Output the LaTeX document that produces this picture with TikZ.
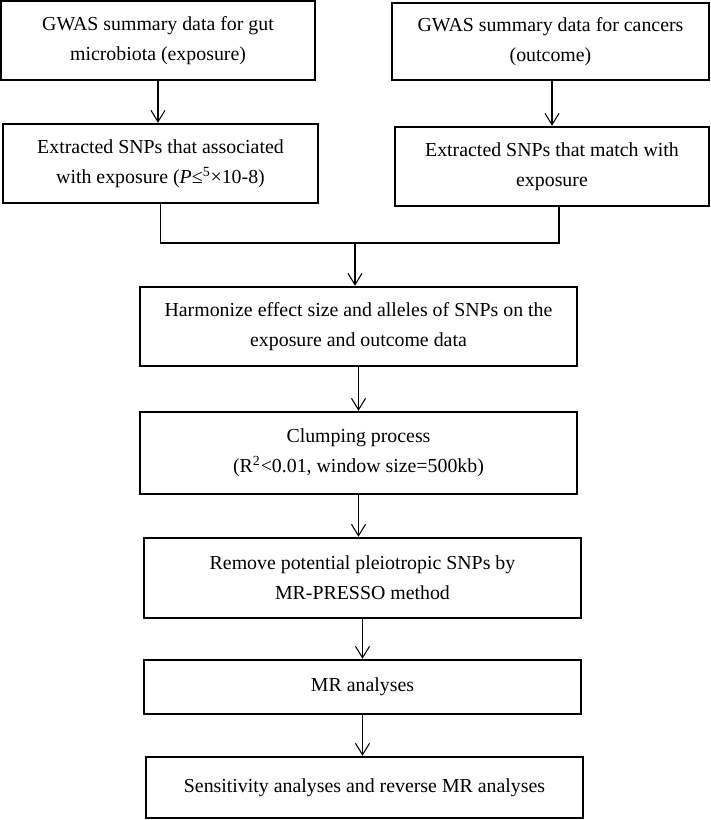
\documentclass[tikz,border=0pt]{standalone}
\usepackage{fontspec}
\setmainfont{Liberation Serif}
\usepackage{tikz}
\usetikzlibrary{arrows, arrows.meta}
\usetikzlibrary{positioning}

\begin{document}
\begin{tikzpicture}[
  box/.style={draw, line width=1.4pt, align=center, inner sep=0pt,
    font=\fontsize{11.3pt}{17pt}\selectfont},
  arr/.style={line width=0.6pt, -{Straight Barb[length=6.5pt, width=8pt]}}
]
\useasboundingbox (0,0) rectangle (14.2,16.4);

\node[box, minimum width=6.28cm, minimum height=1.58cm] (gut) at (3.16,15.59)
  {GWAS summary data for gut\\microbiota (exposure)};
\node[box, minimum width=6.34cm, minimum height=1.54cm] (cancer) at (11.01,15.57)
  {GWAS summary data for cancers\\(outcome)};
\node[box, minimum width=6.30cm, minimum height=1.58cm] (extexp) at (3.21,13.13)
  {Extracted SNPs that associated\\with exposure (\textit{P}≤\textsuperscript{5}×10-8)};
\node[box, minimum width=6.28cm, minimum height=1.58cm] (extout) at (11.04,13.07)
  {Extracted SNPs that match with\\exposure};

\node[box, minimum width=8.74cm, minimum height=1.58cm] (harm) at (7.17,9.87)
  {Harmonize effect size and alleles of SNPs on the\\exposure and outcome data};
\node[box, minimum width=8.74cm, minimum height=1.64cm] (clump) at (7.17,7.34)
  {Clumping process\\(R\textsuperscript{2}<0.01, window size=500kb)};
\node[box, minimum width=8.74cm, minimum height=1.60cm] (presso) at (7.25,4.84)
  {Remove potential pleiotropic SNPs by\\MR-PRESSO method};
\node[box, minimum width=8.74cm, minimum height=1.08cm] (mr) at (7.25,2.66)
  {MR analyses};
\node[box, minimum width=8.74cm, minimum height=1.22cm] (sens) at (7.29,0.65)
  {Sensitivity analyses and reverse MR analyses};

% top arrows
\draw[arr] (gut.south) -- (gut.south |- extexp.north);
\draw[arr] (extout.north |- cancer.south) -- (extout.north);

% join the two branches
\coordinate (join) at (7.10,11.54);
\coordinate (rdrop) at ([xshift=0.14cm]extout.south);
\draw[line width=0.6pt] (extexp.south) -- (extexp.south |- join) -- (rdrop |- join) -- (rdrop);
\draw[arr] (join) -- (join |- harm.north);

% main chain
\draw[arr] (harm.south) -- (harm.south |- clump.north);
\draw[arr] (clump.south) -- (clump.south |- presso.north);
\draw[arr] (presso.south) -- (presso.south |- mr.north);
\draw[arr] (mr.south) -- (mr.south |- sens.north);
\end{tikzpicture}
\end{document}
